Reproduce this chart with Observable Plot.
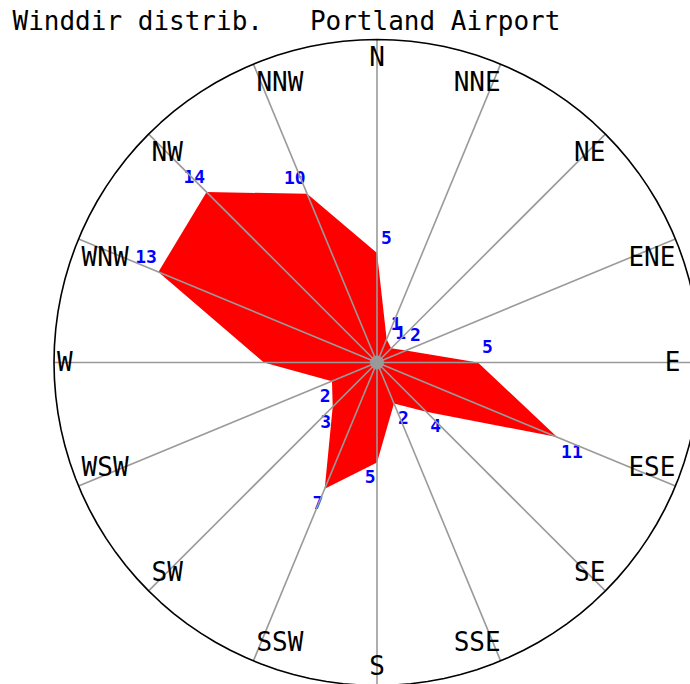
<!DOCTYPE html>
<html><head><meta charset="utf-8">
<script src="https://cdn.jsdelivr.net/npm/d3@7"></script>
<script src="https://cdn.jsdelivr.net/npm/@observablehq/plot@0.6"></script>
<style>body{margin:0;background:#fff;} svg{display:block;}</style>
</head><body><div id="chart"></div>
<script>
const title = "Winddir distrib.   Portland Airport";
const directions = ["N","NNE","NE","ENE","E","ESE","SE","SSE","S","SSW","SW","WSW","W","WNW","NW","NNW"];
const freq = [6.3, 1.45, 1.15, 1.8, 5.8, 11.2, 4.0, 2.55, 5.75, 7.85, 3.6, 2.8, 6.5, 13.6, 13.85, 10.5];
const freqLabels = ["5","1","1","2","5","11","4","2","5","7","3","2","","13","14","10"];

const W = 690, H = 684, CX = 376.5, CY = 362, K = 17.4;
const R_MAX = 323 / K;
const ang = i => i * Math.PI / 8;
const px = (r, a) => r * Math.sin(a);
const py = (r, a) => r * Math.cos(a);
const sgn = v => (Math.abs(v) < 1e-6 ? 0 : Math.sign(v));

const rows = directions.map((d, i) => ({dir: d, a: ang(i), v: freq[i], label: freqLabels[i]}));
const circle = d3.range(0, 361, 3).map(deg => ({a: deg * Math.PI / 180}));
const right = rows.filter(d => d.a < Math.PI - 1e-6);
const left = rows.filter(d => d.a >= Math.PI - 1e-6);
const vdy = d => (Math.cos(d.a) >= -1e-6 ? 15 : -15) / K;

// direction labels: tucked inside the circle at the spoke ends
const xMaxLab = (W - 10 - CX) / K;
const dirX = d => Math.min(px(R_MAX, d.a), xMaxLab) + (sgn(Math.sin(d.a)) < 0 ? 3 / K : 0);
const dirY = d => py(R_MAX, d.a) - sgn(Math.cos(d.a)) * 18.5 / K;
const dirStyle = {text: "dir", fontSize: 26, fontFamily: "DejaVu Sans Mono", fill: "black"};
const dirEnd = rows.filter(d => sgn(Math.sin(d.a)) > 0);
const dirStart = rows.filter(d => sgn(Math.sin(d.a)) < 0);
const dirMid = rows.filter(d => sgn(Math.sin(d.a)) === 0);

const plot = Plot.plot({
  width: W, height: H, margin: 0,
  x: {domain: [-CX / K, (W - CX) / K], axis: null},
  y: {domain: [-(H - CY) / K, CY / K], axis: null},
  marks: [
    Plot.line(rows, {x: d => px(d.v, d.a), y: d => py(d.v, d.a), curve: "linear-closed", fill: "#ff0000", stroke: "none"}),
    Plot.text(right, {x: d => px(d.v, d.a) + 4 / K, y: d => py(d.v, d.a) + vdy(d), text: "label", textAnchor: "start", fontSize: 18, fontWeight: "bold", fontFamily: "DejaVu Sans Mono", fill: "#0000ff"}),
    Plot.text(left, {x: d => px(d.v, d.a) - 1.5 / K, y: d => py(d.v, d.a) + vdy(d), text: "label", textAnchor: "end", fontSize: 18, fontWeight: "bold", fontFamily: "DejaVu Sans Mono", fill: "#0000ff"}),
    Plot.link(rows, {x1: d => 0, y1: d => 0, x2: d => px(R_MAX, d.a), y2: d => py(R_MAX, d.a), stroke: "#9a9a9a", strokeWidth: 1.6}),
    Plot.line(circle, {x: d => px(R_MAX, d.a), y: d => py(R_MAX, d.a), stroke: "black", strokeWidth: 1.6}),
    Plot.dot([0], {x: d => 0, y: d => 0, r: 7, fill: "#999", stroke: "none"}),
    Plot.text(dirEnd, {x: dirX, y: dirY, textAnchor: "end", ...dirStyle}),
    Plot.text(dirStart, {x: dirX, y: dirY, textAnchor: "start", ...dirStyle}),
    Plot.text(dirMid, {x: dirX, y: dirY, textAnchor: "middle", ...dirStyle}),
    Plot.text([title], {frameAnchor: "top-left", dx: 12, dy: 11, textAnchor: "start", lineAnchor: "top", fontSize: 26, fontFamily: "DejaVu Sans Mono", fill: "black"})
  ]
});
document.getElementById("chart").appendChild(plot);
</script>
</body></html>
